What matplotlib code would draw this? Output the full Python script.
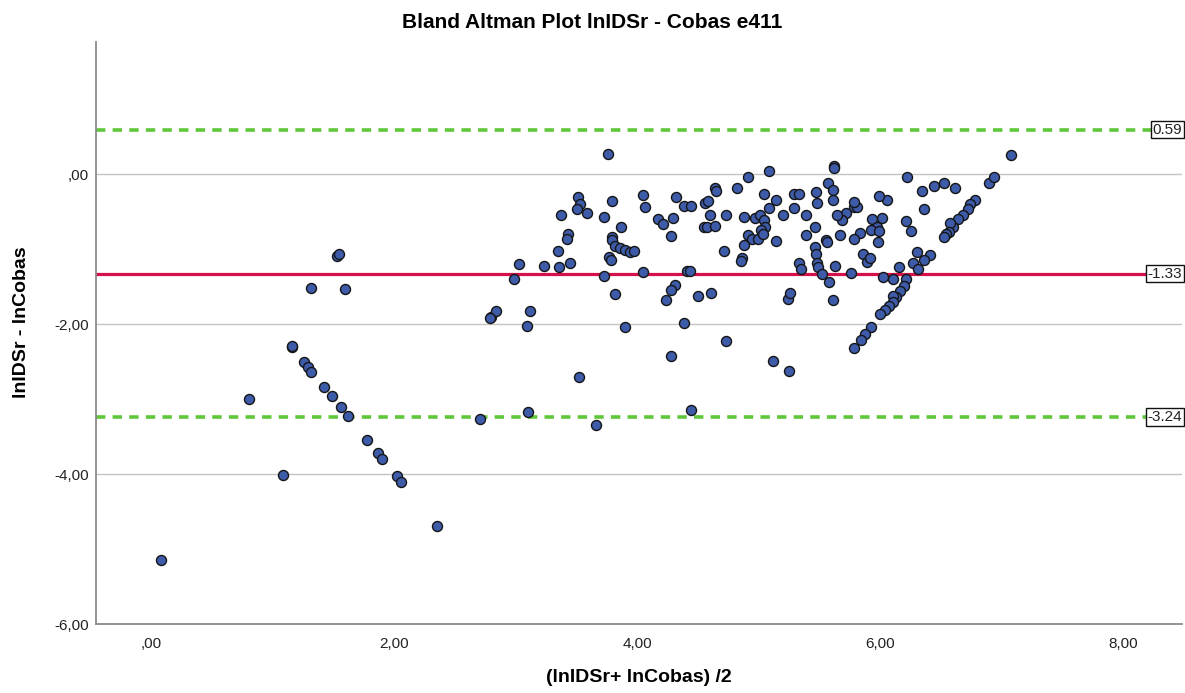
import numpy as np
import matplotlib.pyplot as plt
from matplotlib.ticker import FuncFormatter

plt.rcParams['font.family'] = ['Liberation Sans', 'DejaVu Sans']

# media de ln(IDSr) y ln(Cobas) para cada muestra
media = [
    0.08, 0.81, 1.09, 1.16, 1.16, 1.26, 1.29, 1.32, 1.42, 1.49, 1.56, 1.62, 1.78, 1.87, 1.90,
    2.02, 2.06, 2.35, 2.71, 2.80, 2.84, 1.32, 1.53, 1.55, 1.60,
    3.76, 3.51, 3.53, 3.50, 3.59, 3.37, 3.43, 3.42, 3.35, 3.45, 3.36, 3.23, 3.03, 2.99, 2.79,
    3.12, 3.09, 3.52, 3.10, 3.66, 4.44, 3.73, 3.79, 3.79, 3.79, 3.82, 3.86, 3.90, 3.94, 3.97,
    3.77, 3.78, 3.73, 3.82, 3.87, 3.90, 4.05, 4.06, 4.05, 4.17, 4.21, 4.29, 4.28, 4.32, 4.38,
    4.44, 4.41, 4.43, 4.31, 4.28, 4.24, 4.38, 4.28, 4.50, 4.61, 4.73, 4.56, 4.58, 4.64, 4.65,
    4.60, 4.55, 4.57, 4.64, 4.71, 4.73, 4.82, 4.91, 5.08, 4.88, 4.97, 5.01, 5.04, 5.05, 5.02,
    4.91, 4.94, 4.99, 5.03, 4.88, 4.86, 4.85, 5.04, 5.14, 5.08, 5.20, 5.14, 5.29, 5.29, 5.12,
    5.25, 5.24, 5.26,
    7.07, 6.89, 6.93, 6.78, 6.74, 6.72, 6.68, 6.64, 6.60, 6.57, 6.56, 6.54, 6.52, 6.61, 6.52,
    6.44, 6.34, 6.36, 6.22, 6.21, 6.25, 6.05, 5.99, 6.01, 5.93, 5.97, 5.92, 5.99, 5.98, 6.41,
    6.30, 6.27, 6.36, 6.31, 6.15, 6.21, 6.19, 6.16, 6.13, 6.10, 6.10, 6.07, 6.04, 6.00, 6.10,
    6.02, 5.92, 5.87, 5.84, 5.78, 5.86, 5.89, 5.91, 5.76, 5.78, 5.81, 5.78, 5.83, 5.78, 5.72,
    5.68, 5.64, 5.67, 5.63, 5.61, 5.58, 5.62, 5.62, 5.57, 5.61, 5.61, 5.55, 5.56, 5.46, 5.47,
    5.48, 5.49, 5.52, 5.47, 5.48, 5.46, 5.39, 5.39, 5.33, 5.35, 5.33,
]

# diferencia ln(IDSr) - ln(Cobas)
diferencia = [
    -5.15, -3.00, -4.01, -2.31, -2.29, -2.51, -2.57, -2.64, -2.84, -2.96, -3.11, -3.23, -3.55, -3.72, -3.80,
    -4.03, -4.11, -4.69, -3.27, -1.91, -1.83, -1.52, -1.09, -1.07, -1.53,
    0.27, -0.30, -0.40, -0.46, -0.52, -0.55, -0.80, -0.86, -1.02, -1.18, -1.24, -1.22, -1.20, -1.40, -1.92,
    -1.83, -2.02, -2.70, -3.17, -3.35, -3.15, -0.57, -0.36, -0.84, -0.88, -0.96, -0.98, -1.01, -1.04, -1.03,
    -1.10, -1.14, -1.36, -1.60, -0.71, -2.04, -0.28, -0.44, -1.30, -0.60, -0.67, -0.58, -0.82, -0.31, -0.42,
    -0.42, -1.29, -1.29, -1.48, -1.54, -1.68, -1.98, -2.42, -1.63, -1.58, -2.22, -0.39, -0.36, -0.19, -0.23,
    -0.55, -0.71, -0.71, -0.69, -1.02, -0.54, -0.19, -0.04, 0.04, -0.57, -0.58, -0.55, -0.61, -0.70, -0.75,
    -0.81, -0.86, -0.86, -0.80, -0.95, -1.12, -1.16, -0.27, -0.35, -0.45, -0.55, -0.89, -0.26, -0.45, -2.49,
    -2.62, -1.67, -1.58,
    0.25, -0.12, -0.04, -0.34, -0.40, -0.46, -0.55, -0.60, -0.70, -0.65, -0.77, -0.80, -0.84, -0.19, -0.12,
    -0.16, -0.22, -0.47, -0.04, -0.62, -0.76, -0.34, -0.29, -0.59, -0.60, -0.70, -0.75, -0.76, -0.90, -1.08,
    -1.04, -1.18, -1.15, -1.27, -1.24, -1.40, -1.49, -1.56, -1.64, -1.62, -1.70, -1.76, -1.81, -1.87, -1.40,
    -1.37, -2.04, -2.13, -2.21, -2.32, -1.06, -1.17, -1.12, -1.32, -0.44, -0.44, -0.37, -0.79, -0.86, -0.52,
    -0.61, -0.54, -0.81, -1.23, -1.68, -1.44, 0.11, 0.08, -0.12, -0.21, -0.34, -0.88, -0.91, -0.97, -1.07,
    -1.19, -1.24, -1.33, -0.24, -0.39, -0.71, -0.81, -0.55, -1.19, -1.27, -0.27,
]

media_dif = -1.33
lim_sup = 0.59
lim_inf = -3.24


def formato_spss(v, pos=None):
    """Formato de ejes estilo SPSS: coma decimal y sin cero inicial."""
    txt = f"{v:.2f}".replace('.', ',')
    if txt.startswith('0,'):
        txt = txt[1:]
    elif txt.startswith('-0,'):
        txt = '-' + txt[2:]
    return txt


fig = plt.figure(figsize=(11.85, 6.93), dpi=100)
ax = fig.add_axes([96 / 1185, 69 / 693, 1086 / 1185, 582 / 693])

ax.set_xlim(-0.452, 8.48)
ax.set_ylim(-6.0, 1.76)
ax.set_yticks([-6, -4, -2, 0])
ax.set_xticks([0, 2, 4, 6, 8])
ax.xaxis.set_major_formatter(FuncFormatter(formato_spss))
ax.yaxis.set_major_formatter(FuncFormatter(formato_spss))
ax.tick_params(length=0, labelsize=11, colors='#222222')
ax.tick_params(axis='x', pad=9)
ax.tick_params(axis='y', pad=5)

for s in ['top', 'right']:
    ax.spines[s].set_visible(False)
for s in ['left', 'bottom']:
    ax.spines[s].set_color('#8a8a8a')
    ax.spines[s].set_linewidth(1.3)

for g in [0, -2, -4]:
    ax.axhline(g, color='#c4c4c4', lw=1.0, zorder=1)

ax.axhline(lim_sup, color='#5fc73a', lw=2.6, ls=(0, (2.6, 2.0)), zorder=2)
ax.axhline(lim_inf, color='#5fc73a', lw=2.6, ls=(0, (2.6, 2.0)), zorder=2)
ax.axhline(media_dif, color='#d6104a', lw=2.3, zorder=2)

ax.scatter(media, diferencia, s=52, c='#3d5ba8', edgecolors='#151515', linewidths=1.0, zorder=3)

for val in [lim_sup, media_dif, lim_inf]:
    ax.annotate(f"{val:.2f}", xy=(1.0, val), xycoords=('axes fraction', 'data'),
                ha='right', va='center', fontsize=11, color='#222222',
                bbox=dict(boxstyle='square,pad=0.1', fc='white', ec='#111111', lw=1.0),
                annotation_clip=False, zorder=4)

fig.text(0.5, 1 - 22 / 693, 'Bland Altman Plot lnIDSr - Cobas e411', ha='center', va='center',
         fontsize=15, fontweight='bold')
fig.text(639 / 1185, 1 - 678 / 693, '(lnIDSr+ lnCobas) /2', ha='center', va='center',
         fontsize=14, fontweight='bold')
fig.text(22 / 1185, 1 - 322 / 693, 'lnIDSr - lnCobas', ha='center', va='center', rotation=90,
         fontsize=14, fontweight='bold')

fig.savefig('out.png', dpi=100)
